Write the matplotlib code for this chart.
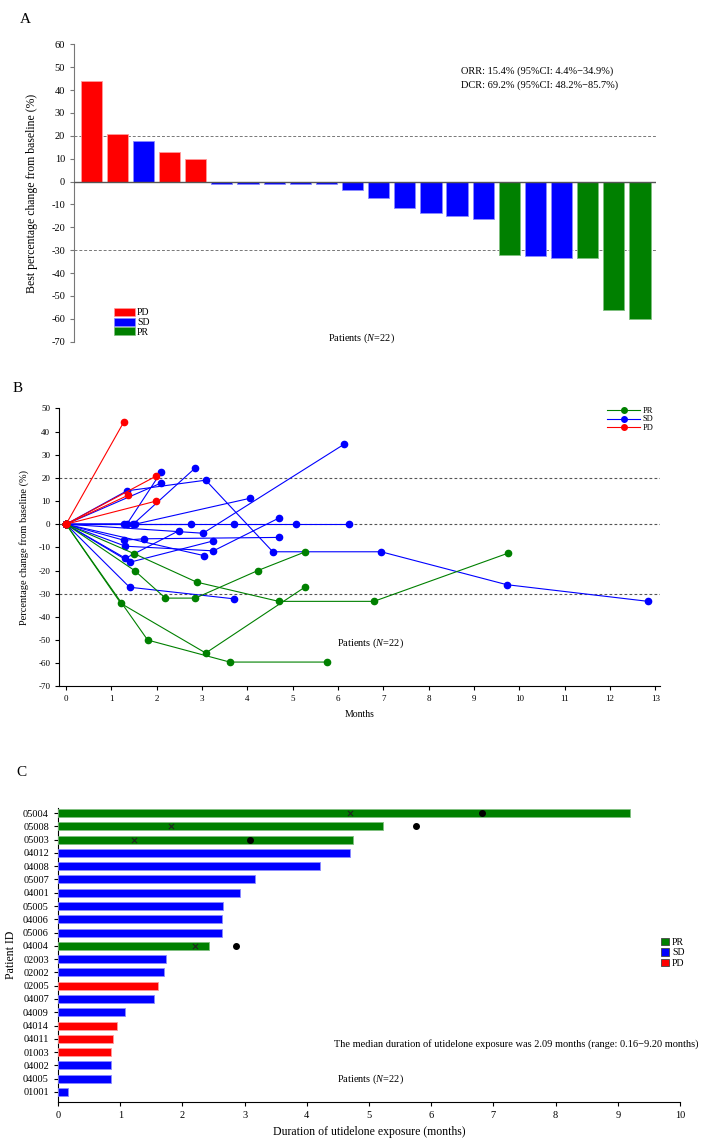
import numpy as np
import matplotlib
matplotlib.use("Agg")
import matplotlib.pyplot as plt
from matplotlib.patches import Patch
from matplotlib.lines import Line2D

plt.rcParams['font.family'] = ['Liberation Serif', 'DejaVu Serif']
plt.rcParams['mathtext.fontset'] = 'custom'
plt.rcParams['mathtext.rm'] = 'Liberation Serif'
plt.rcParams['mathtext.it'] = 'Liberation Serif:italic'
plt.rcParams['axes.unicode_minus'] = False

RED = '#FF0000'
BLUE = '#0000FF'
GREEN = '#008000'
colors = {'PD': RED, 'SD': BLUE, 'PR': GREEN}
edges = {'PD': '#ff9a9a', 'SD': '#8a8aff', 'PR': '#7fbf7f'}

# ---- panel A: waterfall ----
a_values = [44.1, 20.9, 17.9, 12.8, 9.9, -1.2, -1.2, -1.2, -1.2, -1.2, -3.9,
            -7.0, -11.7, -13.9, -14.9, -16.5, -32.3, -32.6, -33.6, -33.6, -56.1, -60.0]
a_status = ['PD', 'PD', 'SD', 'PD', 'PD', 'SD', 'SD', 'SD', 'SD', 'SD', 'SD',
            'SD', 'SD', 'SD', 'SD', 'SD', 'PR', 'SD', 'SD', 'PR', 'PR', 'PR']

# ---- panel B: spider plot (months, % change) per patient ----
pr_lines = [
    ([0, 1.50, 2.88, 4.69, 6.79, 9.75], [0, -12.7, -25.0, -33.3, -33.3, -12.5]),
    ([0, 1.51, 2.19, 2.85, 4.23, 5.28], [0, -20.0, -31.9, -31.9, -20.0, -11.9]),
    ([0, 1.21, 3.08, 5.28], [0, -34.2, -55.6, -27.0]),
    ([0, 1.80, 3.61, 5.75], [0, -50.0, -59.5, -59.5]),
]
sd_lines = [
    ([0, 1.34, 3.08, 4.56, 6.95, 9.72, 12.84], [0, 14.4, 19.0, -11.9, -11.9, -26.1, -33.3]),
    ([0, 1.40, 3.70], [0, -27.2, -32.2]),
    ([0, 2.10], [0, 17.8]),
    ([0, 1.34, 2.10], [0, 0, 22.6]),
    ([0, 1.48, 2.85], [0, 0, 24.3]),
    ([0, 1.52, 4.06], [0, 0, 11.2]),
    ([0, 1.27, 2.75], [0, 0, 0]),
    ([0, 3.70, 5.08, 6.24], [0, 0, 0, 0]),
    ([0, 3.02, 6.14], [0, -3.9, 34.6]),
    ([0, 1.27, 1.71, 4.70], [0, -6.9, -6.3, -5.7]),
    ([0, 1.31, 3.25, 4.70], [0, -9.5, -11.5, 2.7]),
    ([0, 3.05], [0, -13.6]),
    ([0, 1.31, 2.49], [0, -14.7, -2.8]),
    ([0, 1.41, 3.25], [0, -16.4, -7.2]),
]
pd_lines = [
    ([0, 1.27], [0, 44.0]),
    ([0, 1.99], [0, 20.8]),
    ([0, 1.37], [0, 12.5]),
    ([0, 1.99], [0, 10.0]),
]

# ---- panel C: swimmer plot ----
c_ids = ['05004', '05008', '05003', '04012', '04008', '05007', '04001', '05005',
         '04006', '05006', '04004', '02003', '02002', '02005', '04007', '04009',
         '04014', '04011', '01003', '04002', '04005', '01001']
c_duration = [9.20, 5.23, 4.74, 4.70, 4.21, 3.16, 2.93, 2.66, 2.63, 2.63, 2.43,
              1.74, 1.71, 1.61, 1.54, 1.08, 0.95, 0.89, 0.85, 0.85, 0.85, 0.16]
c_status = ['PR', 'PR', 'PR', 'SD', 'SD', 'SD', 'SD', 'SD', 'SD', 'SD', 'PR',
            'SD', 'SD', 'PD', 'SD', 'SD', 'PD', 'PD', 'PD', 'SD', 'SD', 'SD']
cross_ids = ['05004', '05008', '05003', '04004']
cross_months = [4.69, 1.81, 1.22, 2.20]
dot_ids = ['05004', '05008', '05003', '04004']
dot_months = [6.81, 5.76, 3.09, 2.86]

fig = plt.figure(figsize=(7.05, 11.4), dpi=100)

# ================= A =================
ax = fig.add_axes([0.105, 0.7003, 0.825, 0.2608])
xa = np.arange(len(a_values))
ax.bar(xa, a_values, width=0.81, color=[colors[s] for s in a_status],
       edgecolor=[edges[s] for s in a_status], linewidth=0.6, zorder=3)
ax.axhline(0, color='#555555', lw=1.0, zorder=4)
for yv in (20, -30):
    ax.axhline(yv, color='#777777', lw=0.7, ls=(0, (3, 2)), zorder=1)
ax.set_xlim(-0.66, 21.6)
ax.set_ylim(-70, 60)
ax.set_yticks(np.arange(-70, 61, 10))
ax.set_xticks([])
for s in ('top', 'right', 'bottom'):
    ax.spines[s].set_visible(False)
ax.spines['left'].set_color('#777777')
ax.tick_params(axis='y', labelsize=7.5, length=3, color='#777777')
ax.set_ylabel('Best percentage change from baseline (%)', fontsize=8.5)
ax.yaxis.set_label_coords(-0.062, 0.5)
ax.text(14.16, 48.3, 'ORR: 15.4% (95%CI: 4.4%\u221234.9%)', fontsize=7.5, va='center')
ax.text(14.16, 42.2, 'DCR: 69.2% (95%CI: 48.2%\u221285.7%)', fontsize=7.5, va='center')
ax.text(10.35, -68.6, 'Patients ($N$=22)', fontsize=7.5, ha='center', va='center')
ha = [Patch(facecolor=colors[k], edgecolor=edges[k], lw=0.5) for k in ('PD', 'SD', 'PR')]
ax.legend(ha, ['PD', 'SD', 'PR'], loc='lower left', bbox_to_anchor=(0.06, 0.0),
          frameon=False, fontsize=7, handlelength=2.2, handleheight=0.9,
          labelspacing=0.05, handletextpad=0.2, borderpad=0)

# ================= B =================
ax = fig.add_axes([0.0841, 0.3979, 0.8520, 0.2439])
for group, col in ((sd_lines, BLUE), (pr_lines, GREEN), (pd_lines, RED)):
    for mx, my in group:
        ax.plot(mx, my, color=col, lw=0.8, marker='o', ms=4.5, zorder=3)
for yv in (20, 0, -30):
    ax.axhline(yv, color='#555555', lw=0.8, ls=(0, (2.5, 2)), zorder=1)
ax.set_xlim(-0.15, 13.1)
ax.set_ylim(-70, 50)
ax.set_xticks(np.arange(0, 14, 1))
ax.set_yticks(np.arange(-70, 51, 10))
for s in ('top', 'right'):
    ax.spines[s].set_visible(False)
ax.tick_params(labelsize=6.5, length=3)
ax.set_xlabel('Months', fontsize=7)
ax.xaxis.set_label_coords(0.5, -0.085)
ax.set_ylabel('Percentage change from baseline (%)', fontsize=7.5)
ax.yaxis.set_label_coords(-0.05, 0.5)
ax.text(6.71, -51.2, 'Patients ($N$=22)', fontsize=7.5, ha='center', va='center')
hb = [Line2D([], [], color=c, lw=0.8, marker='o', ms=4) for c in (GREEN, BLUE, RED)]
ax.legend(hb, ['PR', 'SD', 'PD'], loc='center left', bbox_to_anchor=(0.905, 0.96),
          frameon=False, fontsize=6, handlelength=4, labelspacing=0.1,
          handletextpad=0.3, borderpad=0)

# ================= C =================
ax = fig.add_axes([0.0823, 0.0331, 0.8822, 0.2581])
yc = np.arange(len(c_ids))[::-1]
ypos = dict(zip(c_ids, yc))
ax.barh(yc, c_duration, height=0.6, color=[colors[s] for s in c_status],
        edgecolor=[edges[s] for s in c_status], linewidth=0.6, zorder=3)
ax.scatter(cross_months, [ypos[i] for i in cross_ids], marker='x', s=14,
           color='#222222', linewidths=0.8, zorder=4)
ax.scatter(dot_months, [ypos[i] for i in dot_ids], marker='o', s=16,
           color='black', zorder=4)
ax.set_xlim(0, 10)
ax.set_ylim(-0.78, 21.38)
ax.set_xticks(np.arange(0, 11, 1))
ax.set_yticks(yc)
ax.set_yticklabels(c_ids)
for s in ('top', 'right'):
    ax.spines[s].set_visible(False)
ax.tick_params(labelsize=7.5, length=3)
ax.set_xlabel('Duration of utidelone exposure (months)', fontsize=8.5)
ax.xaxis.set_label_coords(0.5, -0.082)
ax.set_ylabel('Patient ID', fontsize=8.5)
ax.yaxis.set_label_coords(-0.066, 0.5)
ax.text(7.36, 3.61, 'The median duration of utidelone exposure was 2.09 months '
        '(range: 0.16\u22129.20 months)', fontsize=7.5, ha='center', va='center')
ax.text(5.03, 0.96, 'Patients ($N$=22)', fontsize=7.5, ha='center', va='center')
hc = [Patch(facecolor=colors[k], edgecolor='#444444', lw=0.6) for k in ('PR', 'SD', 'PD')]
ax.legend(hc, ['PR', 'SD', 'PD'], loc='center left', bbox_to_anchor=(0.962, 0.508),
          frameon=False, fontsize=7, handlelength=0.8, handleheight=0.8,
          labelspacing=0.15, handletextpad=0.3, borderpad=0)

fig.text(0.0355, 0.9825, 'A', fontsize=11, ha='center', va='center')
fig.text(0.0255, 0.659, 'B', fontsize=11, ha='center', va='center')
fig.text(0.031, 0.322, 'C', fontsize=11, ha='center', va='center')

fig.savefig('out.png', dpi=100)
